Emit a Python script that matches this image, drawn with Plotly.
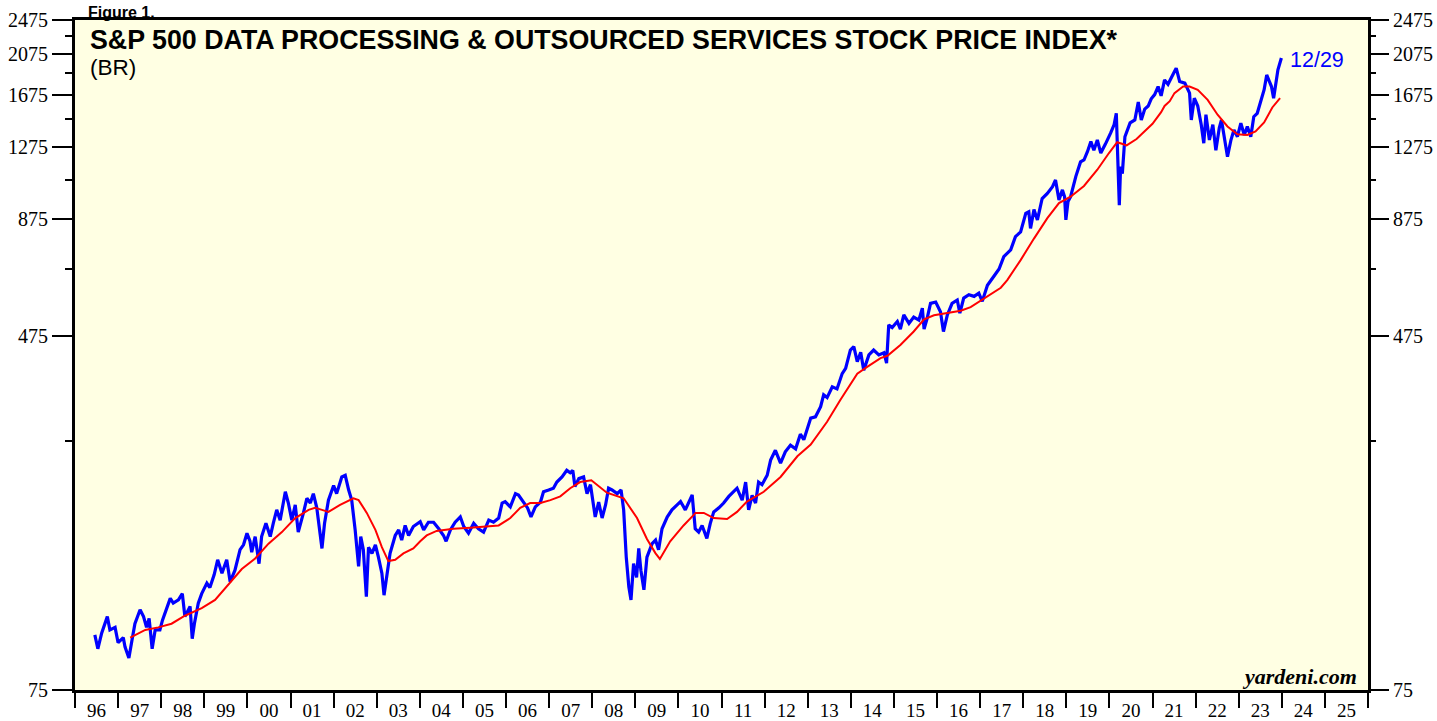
import math
import plotly.graph_objects as go

# ---------------- data ----------------
price_year = [
    1996.46, 1996.53, 1996.62, 1996.75, 1996.81, 1996.93, 1997.00, 1997.12, 1997.16, 1997.25,
    1997.32, 1997.39, 1997.51, 1997.59, 1997.66, 1997.72, 1997.79, 1997.86, 1997.97, 1998.03,
    1998.21, 1998.28, 1998.40, 1998.49, 1998.55, 1998.67, 1998.72, 1998.77, 1998.86, 1998.94,
    1999.06, 1999.13, 1999.23, 1999.31, 1999.41, 1999.52, 1999.60, 1999.71, 1999.83, 1999.91,
    1999.99, 2000.06, 2000.10, 2000.18, 2000.27, 2000.33, 2000.43, 2000.53, 2000.60, 2000.68,
    2000.76, 2000.84, 2000.88, 2000.95, 2001.03, 2001.11, 2001.18, 2001.30, 2001.38, 2001.46,
    2001.53, 2001.61, 2001.73, 2001.79, 2001.88, 2002.00, 2002.07, 2002.19, 2002.27, 2002.35,
    2002.42, 2002.50, 2002.58, 2002.63, 2002.69, 2002.76, 2002.81, 2002.89, 2002.97, 2003.04,
    2003.12, 2003.17, 2003.24, 2003.31, 2003.43, 2003.51, 2003.58, 2003.66, 2003.74, 2003.85,
    2004.01, 2004.09, 2004.20, 2004.32, 2004.44, 2004.55, 2004.61, 2004.71, 2004.82, 2004.94,
    2005.02, 2005.13, 2005.25, 2005.36, 2005.48, 2005.60, 2005.71, 2005.83, 2005.91, 2005.98,
    2006.10, 2006.22, 2006.29, 2006.41, 2006.50, 2006.58, 2006.68, 2006.80, 2006.87, 2006.99,
    2007.10, 2007.18, 2007.30, 2007.41, 2007.49, 2007.55, 2007.60, 2007.69, 2007.80, 2007.88,
    2007.96, 2008.07, 2008.15, 2008.23, 2008.31, 2008.38, 2008.46, 2008.58, 2008.67, 2008.73,
    2008.79, 2008.85, 2008.90, 2008.96, 2009.03, 2009.08, 2009.13, 2009.20, 2009.27, 2009.39,
    2009.47, 2009.54, 2009.62, 2009.74, 2009.85, 2009.97, 2010.05, 2010.16, 2010.24, 2010.32,
    2010.39, 2010.47, 2010.55, 2010.66, 2010.74, 2010.82, 2010.94, 2011.05, 2011.17, 2011.28,
    2011.36, 2011.48, 2011.56, 2011.63, 2011.71, 2011.79, 2011.86, 2011.94, 2012.06, 2012.14,
    2012.25, 2012.37, 2012.48, 2012.60, 2012.72, 2012.83, 2012.91, 2013.07, 2013.18, 2013.30,
    2013.37, 2013.45, 2013.57, 2013.68, 2013.80, 2013.88, 2013.99, 2014.07, 2014.15, 2014.23,
    2014.30, 2014.42, 2014.53, 2014.65, 2014.77, 2014.83, 2014.88, 2014.96, 2015.08, 2015.15,
    2015.23, 2015.35, 2015.46, 2015.58, 2015.66, 2015.70, 2015.77, 2015.85, 2015.97, 2016.08,
    2016.15, 2016.24, 2016.35, 2016.47, 2016.53, 2016.62, 2016.74, 2016.86, 2016.97, 2017.05,
    2017.17, 2017.32, 2017.44, 2017.55, 2017.71, 2017.82, 2017.94, 2018.06, 2018.13, 2018.17,
    2018.25, 2018.33, 2018.44, 2018.56, 2018.68, 2018.75, 2018.83, 2018.91, 2018.96, 2018.99,
    2019.04, 2019.10, 2019.22, 2019.33, 2019.41, 2019.49, 2019.57, 2019.64, 2019.72, 2019.80,
    2019.88, 2019.91, 2020.03, 2020.11, 2020.16, 2020.19, 2020.23, 2020.26, 2020.30, 2020.36,
    2020.42, 2020.48, 2020.59, 2020.67, 2020.74, 2020.82, 2020.90, 2020.97, 2021.05, 2021.13,
    2021.20, 2021.28, 2021.36, 2021.44, 2021.51, 2021.55, 2021.63, 2021.75, 2021.86, 2021.90,
    2021.97, 2022.05, 2022.13, 2022.19, 2022.24, 2022.32, 2022.40, 2022.47, 2022.55, 2022.60,
    2022.66, 2022.74, 2022.82, 2022.89, 2022.97, 2023.05, 2023.13, 2023.20, 2023.28, 2023.35,
    2023.43, 2023.51, 2023.59, 2023.65, 2023.70, 2023.76, 2023.81, 2023.86, 2023.91, 2023.99,
]
price_value = [
    100, 93, 101, 110, 102.6, 104, 96, 98.6, 94, 88.6,
    97, 106, 114, 110, 104, 109, 93, 102.6, 102.6, 108,
    121, 118, 120, 124, 110, 116, 98, 106, 118, 124,
    131, 128, 137, 148, 138, 148, 132, 140, 156, 160,
    170, 163, 154, 167, 145, 167, 179, 167, 179, 192,
    182, 204, 211, 199, 182, 197, 171, 189, 204, 199,
    209, 194, 157, 179, 202, 218, 209, 228, 230, 213,
    202, 173, 143, 167, 156, 122, 158, 153, 160, 150,
    138, 123, 138, 153, 168, 173, 164, 177, 168, 176,
    180.5, 173, 180, 180, 174, 168, 163, 173, 180, 185,
    176, 170, 179, 174, 171, 182, 180, 184, 199, 200.5,
    195, 209, 207.5, 199, 194, 185, 195, 200, 211, 213,
    215, 222, 228, 236, 233, 236, 217, 226, 228, 209,
    219, 185, 200, 184, 197, 215, 213, 209, 213, 192,
    150, 128.6, 120, 145, 135, 157, 140, 126.5, 150, 161,
    164, 156, 174, 185, 192, 197, 200.5, 192, 199, 207.5,
    174, 171, 177, 165.5, 179, 190, 194, 199, 206, 211,
    215, 202, 222, 192, 207, 199, 222, 219, 230, 249,
    262, 245, 260, 269, 264, 285, 277, 310, 312, 329,
    350, 345, 365, 361, 391, 402, 442, 450, 416, 437,
    398, 431, 442, 431, 436, 413, 504, 497, 513, 493,
    531, 508, 525, 517, 550, 493, 521, 564, 568, 540,
    487, 531, 564, 574, 536, 580, 590, 585, 595, 570,
    620, 650, 675, 720, 746, 799, 819, 902, 910, 834,
    920, 872, 975, 1001, 1037, 1074, 968, 1020, 984, 872,
    960, 984, 1093, 1180, 1192, 1245, 1312, 1254, 1323, 1236,
    1276, 1297, 1373, 1434, 1521, 1254, 942, 1152, 1110, 1346,
    1395, 1447, 1469, 1613, 1469, 1555, 1580, 1640, 1677, 1749,
    1666, 1810, 1770, 1827, 1891, 1925, 1796, 1780, 1690, 1469,
    1646, 1580, 1434, 1301, 1510, 1323, 1434, 1254, 1410, 1469,
    1346, 1213, 1323, 1395, 1346, 1444, 1358, 1420, 1346, 1494,
    1521, 1631, 1720, 1858, 1810, 1749, 1646, 1796, 1908, 2029,
]

ma_year = [
    1997.28, 1997.63, 1997.93, 1998.24, 1998.55, 1998.94, 1999.25, 1999.56, 1999.87, 2000.18,
    2000.49, 2000.80, 2001.11, 2001.42, 2001.57, 2001.73, 2001.88, 2002.15, 2002.46, 2002.58,
    2002.77, 2002.97, 2003.12, 2003.27, 2003.43, 2003.62, 2003.85, 2004.01, 2004.16, 2004.39,
    2004.78, 2005.17, 2005.56, 2005.83, 2006.10, 2006.33, 2006.56, 2006.80, 2007.03, 2007.26,
    2007.49, 2007.72, 2007.98, 2008.34, 2008.73, 2009.04, 2009.27, 2009.47, 2009.57, 2009.81,
    2010.12, 2010.40, 2010.59, 2010.82, 2011.13, 2011.36, 2011.59, 2011.98, 2012.37, 2012.76,
    2013.07, 2013.45, 2013.76, 2014.15, 2014.38, 2014.69, 2014.85, 2015.15, 2015.46, 2015.70,
    2015.93, 2016.24, 2016.55, 2016.78, 2017.01, 2017.24, 2017.48, 2017.63, 2017.94, 2018.25,
    2018.56, 2018.83, 2019.10, 2019.41, 2019.72, 2019.99, 2020.18, 2020.29, 2020.40, 2020.63,
    2020.84, 2021.00, 2021.20, 2021.28, 2021.40, 2021.51, 2021.71, 2021.86, 2022.05, 2022.28,
    2022.51, 2022.74, 2022.97, 2023.20, 2023.39, 2023.59, 2023.78, 2023.96,
]
ma_value = [
    98.6, 102.6, 104, 106, 110.5, 115, 120, 130, 141, 149,
    161, 171, 184, 192, 194, 192, 190, 197, 204, 202,
    189, 173, 158, 147, 148, 153, 157, 163, 168, 172,
    174, 175, 176, 177, 184, 194, 199, 199, 202, 206,
    215, 222, 224, 210, 204, 184, 165, 153, 148.6, 163,
    177, 189, 189, 184, 183, 190, 200.5, 211, 228, 254,
    270, 304, 341, 391, 405, 424, 429, 454, 487, 519,
    530, 536, 543, 553, 572, 590, 612, 637, 707, 791,
    880, 952, 984, 1041, 1133, 1236, 1308, 1297, 1286, 1330,
    1392, 1440, 1530, 1580, 1620, 1690, 1749, 1749, 1720, 1631,
    1510, 1420, 1363, 1358, 1383, 1450, 1568, 1646,
]

year_labels = ["96", "97", "98", "99", "00", "01", "02", "03", "04", "05",
               "06", "07", "08", "09", "10", "11", "12", "13", "14", "15",
               "16", "17", "18", "19", "20", "21", "22", "23", "24", "25"]
first_year = 1996

y_major = [75, 475, 875, 1275, 1675, 2075, 2475]
y_minor = [275, 675, 1075, 1475, 1875, 2275]

title_text = "S&P 500 DATA PROCESSING & OUTSOURCED SERVICES STOCK PRICE INDEX*"
subtitle_text = "(BR)"
last_date_text = "12/29"
figure_label = "Figure 1."

# ---------------- figure ----------------
W, H = 1437, 721
L, R, T, B = 75, 69, 20, 31
plot_w = W - L - R
plot_h = H - T - B

BLUE = "#0000FF"
RED = "#FF0000"
BG = "#FFFFE3"
SERIF = "Liberation Serif, Times New Roman, serif"
SANS = "Liberation Sans, Arial, sans-serif"

fig = go.Figure()
fig.add_trace(go.Scatter(x=price_year, y=price_value, mode="lines",
                         line=dict(color=BLUE, width=3.2), yaxis="y", hoverinfo="skip",
                         showlegend=False))
fig.add_trace(go.Scatter(x=ma_year, y=ma_value, mode="lines",
                         line=dict(color=RED, width=2), yaxis="y2", hoverinfo="skip",
                         showlegend=False))

yrange = [math.log10(75), math.log10(2475)]
n_years = len(year_labels)
mid_years = [first_year + i + 0.5 for i in range(n_years)]

tick_font = dict(family=SERIF, size=20, color="black")

fig.update_layout(
    width=W, height=H,
    margin=dict(l=L, r=R, t=T, b=B, pad=0, autoexpand=False),
    paper_bgcolor="white",
    plot_bgcolor=BG,
    showlegend=False,
    xaxis=dict(
        range=[first_year, first_year + n_years], automargin=False,
        showgrid=False, zeroline=False,
        showline=True, linecolor="black", linewidth=3, mirror=True,
        tickmode="array", tickvals=mid_years, ticktext=year_labels,
        ticks="outside", ticklen=1, tickcolor="rgba(0,0,0,0)",
        tickfont=dict(family=SERIF, size=19, color="black"),
        minor=dict(tickmode="array", tickvals=list(range(first_year, first_year + n_years + 1)),
                   ticks="outside", ticklen=15, tickwidth=2, tickcolor="black", showgrid=False),
    ),
    yaxis=dict(
        type="log", range=yrange, automargin=False,
        showgrid=False, zeroline=False,
        showline=True, linecolor="black", linewidth=3, mirror=True,
        tickmode="array", tickvals=y_major, ticktext=[str(v) for v in y_major],
        ticks="outside", ticklen=20, tickwidth=1.5, tickcolor="black",
        tickfont=tick_font,
        minor=dict(tickmode="array", tickvals=y_minor, ticks="outside", ticklen=7,
                   tickwidth=1.5, tickcolor="black", showgrid=False),
    ),
    yaxis2=dict(
        type="log", range=yrange, overlaying="y", side="right", automargin=False,
        showgrid=False, zeroline=False, showline=False,
        tickmode="array", tickvals=y_major, ticktext=[str(v) for v in y_major],
        ticks="outside", ticklen=20, tickwidth=1.5, tickcolor="black",
        tickfont=tick_font,
        minor=dict(tickmode="array", tickvals=y_minor, ticks="outside", ticklen=7,
                   tickwidth=1.5, tickcolor="black", showgrid=False),
    ),
)

def px_x(px):
    return (px - L) / plot_w

def px_y(py):
    return (H - B - py) / plot_h

annotations = [
    dict(text="<b>" + title_text.replace("&", "&amp;") + "</b>", x=px_x(88), y=px_y(40),
         xanchor="left", yanchor="middle", showarrow=False,
         font=dict(family=SANS, size=26.8, color="black")),
    dict(text=subtitle_text, x=px_x(88), y=px_y(68), xanchor="left", yanchor="middle",
         showarrow=False, font=dict(family=SANS, size=22.5, color="black")),
    dict(text=last_date_text, x=px_x(1288), y=px_y(60), xanchor="left", yanchor="middle",
         showarrow=False, font=dict(family=SANS, size=21.5, color=BLUE)),
    dict(text="<b><i>yardeni.com</i></b>", x=px_x(1359), y=px_y(676), xanchor="right",
         yanchor="middle", showarrow=False, font=dict(family=SERIF, size=22, color="black")),
    dict(text="<b>" + figure_label + "</b>", x=px_x(86), y=px_y(2), xanchor="left",
         yanchor="top", showarrow=False, font=dict(family=SANS, size=16, color="black")),
]
fig.update_layout(annotations=[dict(a, xref="paper", yref="paper") for a in annotations])

fig.write_html(
    "out.html",
    config={"displayModeBar": False},
    post_script="document.body.style.margin='0';document.body.style.padding='0';"
                "document.documentElement.style.overflow='hidden';",
)
